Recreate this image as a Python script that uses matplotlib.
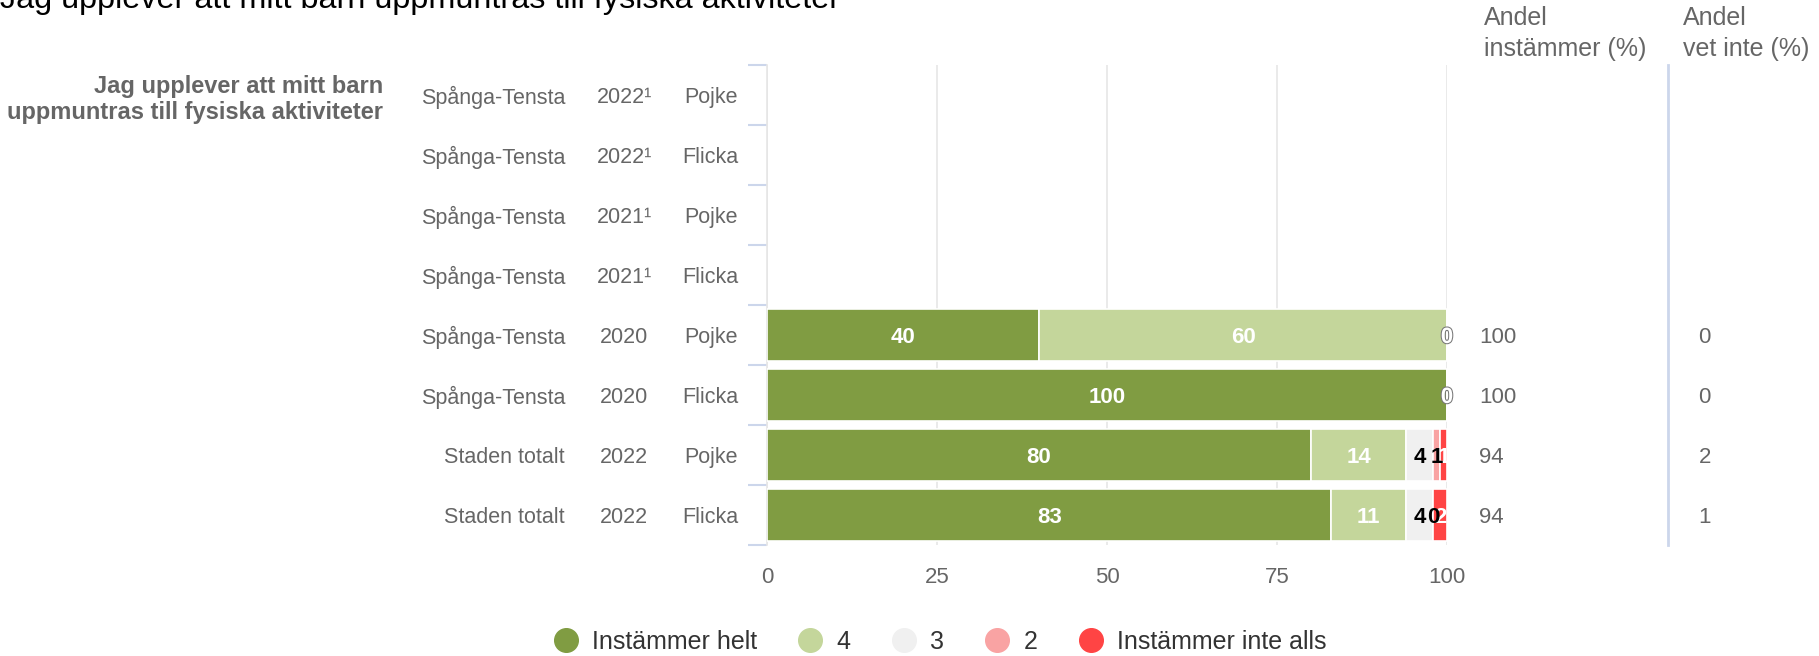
import numpy as np
import matplotlib.pyplot as plt
import matplotlib.patheffects as pe
from matplotlib.lines import Line2D

plt.rcParams['font.family'] = ['Liberation Sans', 'DejaVu Sans']

# Data
title = 'Jag upplever att mitt barn uppmuntras till fysiska aktiviteter'
question = 'Jag upplever att mitt barn\nuppmuntras till fysiska aktiviteter'
areas = ['Spånga-Tensta'] * 6 + ['Staden totalt'] * 2
years = ['2022¹', '2022¹', '2021¹', '2021¹', '2020', '2020', '2022', '2022']
genders = ['Pojke', 'Flicka'] * 4

series_names = ['Instämmer helt', '4', '3', '2', 'Instämmer inte alls']
helt = [None, None, None, None, 40, 100, 80, 83]
fyra = [None, None, None, None, 60, 0, 14, 11]
tre = [None, None, None, None, 0, 0, 4, 4]
tva = [None, None, None, None, 0, 0, 1, 0]
inte_alls = [None, None, None, None, 0, 0, 1, 2]

andel_instammer = ['', '', '', '', '100', '100', '94', '94']
andel_vet_inte = ['', '', '', '', '0', '0', '2', '1']

colors = ['#809c42', '#c4d69b', '#f0f0f0', '#f9a3a3', '#ff4444']
label_colors = ['white', 'white', 'black', 'black', 'white']

fig = plt.figure(figsize=(18.19, 6.56), dpi=100)
ax = fig.add_axes([767 / 1819, 1 - 545 / 656, 680 / 1819, 480 / 656])

rows = np.arange(len(areas))
all_series = [helt, fyra, tre, tva, inte_alls]
left = np.zeros(len(rows))
label_jobs = []
for k, vals in enumerate(all_series):
    v = np.array([np.nan if x is None else x for x in vals], dtype=float)
    mask = ~np.isnan(v)
    ax.barh(rows[mask], v[mask], left=left[mask], height=0.88,
            color=colors[k], edgecolor='white', linewidth=1.2, zorder=3)
    for r in rows[mask]:
        label_jobs.append((r, k, left[r] + v[r] / 2, v[r]))
    left[mask] += v[mask]

# bar labels; overlapping zero labels only shown once
seen = set()
for r, k, xc, val in reversed(label_jobs):
    if val == 0:
        key = (r, round(xc, 3))
        if key in seen:
            continue
        seen.add(key)
    t = ax.text(xc, r, f'{val:.0f}', ha='center', va='center_baseline', fontsize=16,
                fontweight='bold', color=label_colors[k], zorder=5)
    if val == 0 and label_colors[k] == 'white':
        t.set_path_effects([pe.withStroke(linewidth=1.5, foreground='#777777')])

ax.set_xlim(0, 100)
ax.set_ylim(7.5, -0.5)
ax.set_xticks([0, 25, 50, 75, 100])
ax.tick_params(axis='x', length=0, labelsize=16, labelcolor='#666666', pad=16)
ax.set_yticks(np.arange(-0.5, 8, 1))
ax.set_yticklabels([])
ax.tick_params(axis='y', length=14, width=1.5, color='#ccd6eb')
ax.grid(axis='x', color='#e6e6e6', linewidth=1.2, zorder=0)
for s in ['top', 'right', 'bottom']:
    ax.spines[s].set_visible(False)
ax.spines['left'].set_color('#e6e6e6')
ax.spines['left'].set_linewidth(1.2)

tr = ax.get_yaxis_transform()
fs = 15.5
for r in rows:
    ax.text(-0.297, r, areas[r], transform=tr, ha='right', va='center_baseline',
            fontsize=fs, color='#666666')
    ax.text(-0.210, r, years[r], transform=tr, ha='center', va='center_baseline',
            fontsize=fs, color='#666666')
    ax.text(-0.0426, r, genders[r], transform=tr, ha='right', va='center_baseline',
            fontsize=fs, color='#666666')
    ax.text(1.047, r, andel_instammer[r], transform=tr, ha='left', va='center_baseline',
            fontsize=16, color='#666666')
    ax.text(1.37, r, andel_vet_inte[r], transform=tr, ha='left', va='center_baseline',
            fontsize=16, color='#666666')

ax.text(-0.5647, 0.07, question, transform=tr, ha='right', va='center',
        fontsize=17, fontweight='bold', color='#666666', linespacing=1.17)

ax.text(1.054, -1.03, 'Andel\ninstämmer (%)', transform=tr, ha='left', va='center',
        fontsize=18, color='#666666', linespacing=1.38)
ax.text(1.347, -1.03, 'Andel\nvet inte (%)', transform=tr, ha='left', va='center',
        fontsize=18, color='#666666', linespacing=1.38)
ax.plot([1.325, 1.325], [-0.5, 7.5], transform=tr, color='#ccd6eb',
        linewidth=2, clip_on=False)

fig.text(0.0, 1 - 8 / 656, title, ha='left', va='baseline', fontsize=23.3,
         color='#000000')

handles = [Line2D([], [], marker='o', linestyle='none', markersize=17,
                  markerfacecolor=c, markeredgecolor=c) for c in colors]
fig.legend(handles, series_names, loc='center', bbox_to_anchor=(0.5133, 1 - 642 / 656),
           ncol=5, frameon=False, fontsize=18, handletextpad=0.05,
           columnspacing=1.13, labelcolor='#333333')

fig.savefig('out.png', dpi=100)
